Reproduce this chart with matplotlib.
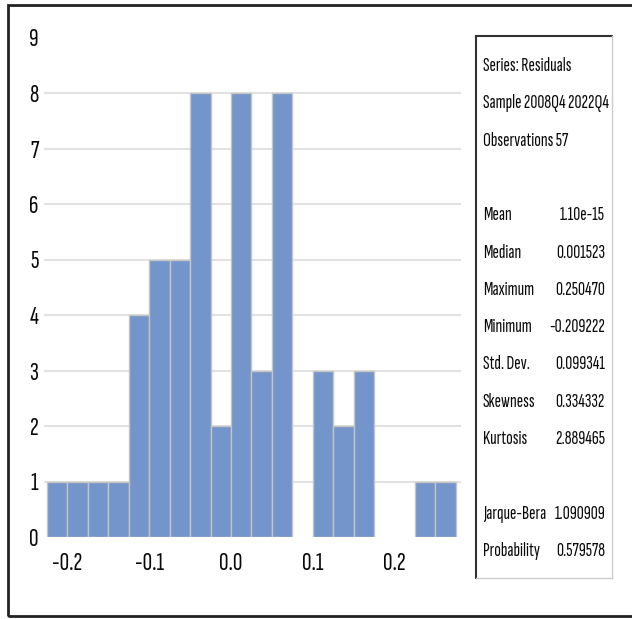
import matplotlib
matplotlib.use("Agg")
import matplotlib.pyplot as plt
from matplotlib import font_manager
from matplotlib.patches import Rectangle
from matplotlib.lines import Line2D
import numpy as np

# Histogram of residuals: bin left edges and counts
bin_left = [-0.225, -0.200, -0.175, -0.150, -0.125, -0.100, -0.075, -0.050, -0.025,
            0.000, 0.025, 0.050, 0.075, 0.100, 0.125, 0.150, 0.175, 0.200, 0.225, 0.250]
counts = [1, 1, 1, 1, 4, 5, 5, 8, 2, 8, 3, 8, 0, 3, 2, 3, 0, 0, 1, 1]
bin_width = 0.025

x_ticks = [-0.2, -0.1, 0.0, 0.1, 0.2]
x_tick_labels = ["-0.2", "-0.1", "0.0", "0.1", "0.2"]
y_ticks = list(range(0, 10))

# Descriptive statistics panel
header_lines = ["Series: Residuals", "Sample 2008Q4 2022Q4", "Observations 57"]
stat_names = ["Mean", "Median", "Maximum", "Minimum", "Std. Dev.", "Skewness", "Kurtosis"]
stat_values = ["1.10e-15", "0.001523", "0.250470", "-0.209222", "0.099341", "0.334332", "2.889465"]
test_names = ["Jarque-Bera", "Probability"]
test_values = ["1.090909", "0.579578"]

available = {f.name for f in font_manager.fontManager.ttflist}
family = "DejaVu Sans"
for cand in ["Sofia Sans Extra Condensed", "Fira Sans Extra Condensed",
             "Open Sans Condensed", "Roboto Condensed", "Carlito"]:
    if cand in available:
        family = cand
        break
plt.rcParams["font.family"] = [family, "DejaVu Sans"]

W, H = 632, 619
fig = plt.figure(figsize=(W / 100, H / 100), dpi=100)

def fx(px):
    return px / W

def fy(py):
    return 1 - py / H

# Outer frame
fig.add_artist(Rectangle((fx(8), fy(616)), fx(640) - fx(8), fy(5) - fy(616),
                         transform=fig.transFigure, fill=False,
                         edgecolor="#222222", linewidth=2))

ax = fig.add_axes([fx(44), fy(537), fx(461) - fx(44), fy(37.5) - fy(537)])
ax.set_xlim(-0.2287, 0.2813)
ax.set_ylim(0, 9)

bl = np.array(bin_left)
ct = np.array(counts)
mask = ct > 0
ax.bar(bl[mask], ct[mask], width=bin_width, align="edge",
       color="#7395CB", edgecolor="#C4C4C4", linewidth=1.0, zorder=3)

for v in y_ticks[1:-1]:
    ax.axhline(v, color="#E2E2E2", linewidth=1.5, zorder=1)

for s in ax.spines.values():
    s.set_visible(False)
ax.set_yticks(y_ticks)
ax.set_yticklabels([str(v) for v in y_ticks])
ax.set_xticks(x_ticks)
ax.set_xticklabels(x_tick_labels)
ax.tick_params(axis="both", length=0, labelsize=19, colors="#0A0A0A")
ax.tick_params(axis="y", pad=4)
ax.tick_params(axis="x", pad=11)

# Statistics box
fig.add_artist(Line2D([fx(476), fx(476)], [fy(578), fy(36)], transform=fig.transFigure,
                      color="#333333", linewidth=1.5))
fig.add_artist(Line2D([fx(476), fx(612)], [fy(36), fy(36)], transform=fig.transFigure,
                      color="#333333", linewidth=1.5))
fig.add_artist(Line2D([fx(612), fx(612)], [fy(36), fy(578)], transform=fig.transFigure,
                      color="#CCCCCC", linewidth=1.0))
fig.add_artist(Line2D([fx(476), fx(612)], [fy(578), fy(578)], transform=fig.transFigure,
                      color="#CCCCCC", linewidth=1.0))

row0, step = 66, 37.3
fs = 14
x_left, x_right = 483, 605
for i, t in enumerate(header_lines):
    fig.text(fx(x_left), fy(row0 + step * i), t, ha="left", va="center",
             fontsize=fs, color="#0A0A0A")
for i, (n, v) in enumerate(zip(stat_names, stat_values)):
    y = fy(row0 + step * (i + 4))
    fig.text(fx(x_left), y, n, ha="left", va="center", fontsize=fs, color="#0A0A0A")
    fig.text(fx(x_right), y, v, ha="right", va="center", fontsize=fs, color="#0A0A0A")
for i, (n, v) in enumerate(zip(test_names, test_values)):
    y = fy(row0 + step * (i + 12))
    fig.text(fx(x_left), y, n, ha="left", va="center", fontsize=fs, color="#0A0A0A")
    fig.text(fx(x_right), y, v, ha="right", va="center", fontsize=fs, color="#0A0A0A")

fig.savefig("out.png", dpi=100)
